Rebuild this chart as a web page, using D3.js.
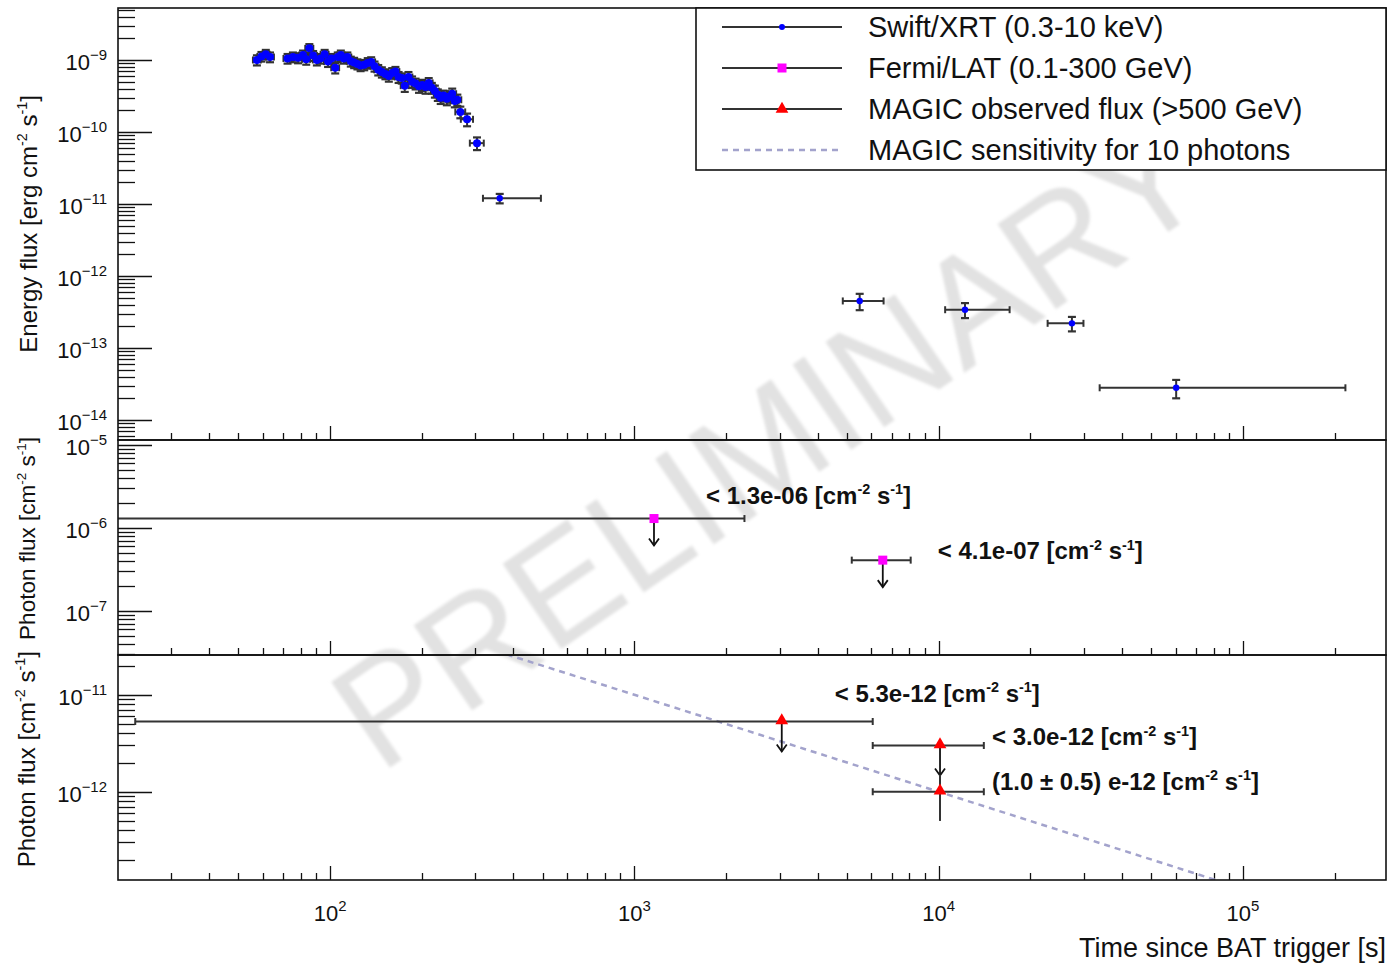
<!DOCTYPE html>
<html>
<head>
<meta charset="utf-8">
<script src="https://cdn.jsdelivr.net/npm/d3@7"></script>
<style>
  body { margin: 0; background: #fff; }
  svg { display: block; font-family: "Liberation Sans", Arial, Helvetica, sans-serif; }
</style>
</head>
<body>
<svg id="chart" width="1390" height="965"></svg>
<script>
// Swift/XRT light curve (time [s], energy flux [erg cm^-2 s^-1])
var swiftT = [57.5,59.5,61.5,63.5, 72.5,75.5,78.5,81.5,83.5,85.5, 88,90.5,93,96,98.5, 101,104,106,108.5,111,
  114,117,120,123,126, 129.5,133,136.5,140,144, 148,152,156,160,164, 168,172,176,181,186,
  191,196,201,206,211, 216,221,226,231,236, 242,247,252,257,262, 268,282,304]
var swiftTErr = [1.7,1.8,1.8,1.9, 2.2,2.3,2.4,2.4,2.5,2.6, 2.6,2.7,2.8,2.9,3.0, 3.0,3.1,3.2,3.3,3.3,
  3.4,3.5,3.6,3.7,3.8, 3.9,4.0,4.1,4.2,4.3, 4.4,4.6,4.7,4.8,4.9, 5.0,5.2,5.3,5.4,5.6,
  5.7,5.9,6.0,6.2,6.3, 6.5,6.6,6.8,6.9,7.1, 7.3,7.4,7.6,7.7,7.9, 10,13,16]
var swiftF = [1.00e-9,1.12e-9,1.20e-9,1.10e-9, 1.05e-9,1.10e-9,1.07e-9,1.17e-9,1.02e-9,1.45e-9,
  1.15e-9,1.00e-9,1.05e-9,1.20e-9,0.95e-9, 1.05e-9,7.8e-10,1.10e-9,1.17e-9,1.05e-9,
  1.10e-9,9.6e-10,9.2e-10,8.8e-10,8.4e-10, 8.6e-10,9.1e-10,9.4e-10,8.2e-10,7.3e-10,
  6.8e-10,6.4e-10,6.0e-10,6.6e-10,6.9e-10, 5.8e-10,5.6e-10,4.4e-10,5.8e-10,5.0e-10,
  4.7e-10,4.3e-10,4.5e-10,4.2e-10,4.8e-10, 4.1e-10,3.7e-10,3.3e-10,3.0e-10,3.2e-10,
  2.9e-10,3.1e-10,3.4e-10,2.7e-10,2.8e-10, 1.9e-10,1.5e-10,7.0e-11]
var swiftFErr = [1.6e-10,1.7e-10,1.8e-10,1.7e-10, 1.6e-10,1.7e-10,1.7e-10,1.8e-10,1.6e-10,2.1e-10,
  1.8e-10,1.6e-10,1.6e-10,1.8e-10,1.5e-10, 1.6e-10,1.3e-10,1.7e-10,1.8e-10,1.6e-10,
  1.7e-10,1.5e-10,1.5e-10,1.4e-10,1.4e-10, 1.4e-10,1.5e-10,1.5e-10,1.3e-10,1.2e-10,
  1.1e-10,1.0e-10,1.0e-10,1.1e-10,1.1e-10, 1.0e-10,0.9e-10,0.8e-10,1.0e-10,0.9e-10,
  0.8e-10,0.8e-10,0.8e-10,0.8e-10,0.8e-10, 0.7e-10,0.7e-10,0.6e-10,0.55e-10,0.55e-10,
  0.55e-10,0.55e-10,0.6e-10,0.5e-10,0.5e-10, 0.35e-10,0.3e-10,1.4e-11]

// late Swift points, asymmetric time bins
var swiftLateT = [361, 5500, 12200, 27400, 60300]
var swiftLateTLo = [318, 4840, 10500, 22800, 33800]
var swiftLateTHi = [493, 6590, 17100, 29900, 217000]
var swiftLateF = [1.2e-11, 4.5e-13, 3.4e-13, 2.2e-13, 2.8e-14]
var swiftLateFErr = [1.8e-12, 1.15e-13, 0.8e-13, 0.5e-13, 0.8e-14]

// Fermi/LAT upper limits (photon flux cm^-2 s^-1)
var fermiT = [1160, 6550]
var fermiTLo = [1, 5180]
var fermiTHi = [2300, 8090]
var fermiF = [1.3e-6, 4.1e-7]
var fermiLabels = ['< 1.3e-06', '< 4.1e-07']

// MAGIC (>500 GeV)
var magicT = [3050, 10100, 10100]
var magicTLo = [22.9, 6070, 6070]
var magicTHi = [6070, 14070, 14070]
var magicF = [5.3e-12, 3.0e-12, 1.0e-12]
var magicFErr = [0, 0, 0.5e-12]
var magicUL = [true, true, false]
var magicLabels = ['< 5.3e-12', '< 3.0e-12', '(1.0 \u00b1 0.5) e-12']

// MAGIC sensitivity for 10 photons
var sensT = [300, 1000, 10000, 100000]
var sensF = [3.3e-11, 1.0e-11, 1.0e-12, 1.0e-13]

var legendLabels = ['Swift/XRT (0.3-10 keV)', 'Fermi/LAT (0.1-300 GeV)', 'MAGIC observed flux (>500 GeV)', 'MAGIC sensitivity for 10 photons']

var L = 118, R = 1386
var panels = [
    {top: 8, bottom: 440, dom: [Math.pow(10, -14.278), Math.pow(10, -8.278)]},
    {top: 440, bottom: 655, dom: [Math.pow(10, -7.53), Math.pow(10, -4.94)]},
    {top: 655, bottom: 880, dom: [Math.pow(10, -12.91), Math.pow(10, -10.59)]}
]

var svg = d3.select('#chart')
var xs = d3.scaleLog().domain([20.1, 2.95e5]).range([L, R])
panels.forEach(p => { p.y = d3.scaleLog().domain(p.dom).range([p.bottom, p.top]) })

var defs = svg.append('defs')
defs.append('filter').attr('id', 'soft').append('feGaussianBlur').attr('stdDeviation', 1.8)
panels.forEach((p, i) => {
    defs.append('clipPath').attr('id', 'clip' + i).append('rect')
        .attr('x', L).attr('y', p.top).attr('width', R - L).attr('height', p.bottom - p.top)
})

// watermark, behind everything
svg.append('text')
    .attr('transform', 'translate(768,444) rotate(-34.5)')
    .attr('text-anchor', 'middle').attr('dominant-baseline', 'central')
    .style('font-size', '150px').style('fill', '#e2e2e2')
    .attr('filter', 'url(#soft)')
    .text('PRELIMINARY')

// ---- axes / ticks ----
function logTicks(dom) {
    var out = []
    var lo = Math.floor(Math.log10(dom[0])), hi = Math.ceil(Math.log10(dom[1]))
    for (var e = lo; e <= hi; e++) {
        for (var m = 1; m < 10; m++) {
            var v = m * Math.pow(10, e)
            if (v >= dom[0] && v <= dom[1]) out.push({v: v, major: m == 1, e: e})
        }
    }
    return out
}

var axisG = svg.append('g').style('stroke', '#111')

panels.forEach(p => {
    // left ticks (inside)
    logTicks(p.dom).forEach(t => {
        var yy = Math.round(p.y(t.v)) + 0.5
        axisG.append('line').attr('x1', L).attr('x2', L + (t.major ? 34 : 17))
            .attr('y1', yy).attr('y2', yy).style('stroke-width', 1.3)
    })
    // bottom ticks (upward)
    logTicks(xs.domain()).forEach(t => {
        var xx = Math.round(xs(t.v)) + 0.5
        axisG.append('line').attr('x1', xx).attr('x2', xx)
            .attr('y1', p.bottom).attr('y2', p.bottom - (t.major ? 14 : 7)).style('stroke-width', 1.3)
    })
})

function supLabel(g, x, y, base, exp, anchor, size) {
    var t = g.append('text').attr('x', x).attr('y', y).attr('text-anchor', anchor)
        .style('font-size', size + 'px').style('fill', '#111')
    t.append('tspan').text(base)
    t.append('tspan').attr('dy', -size * 0.45).style('font-size', (size * 0.68) + 'px').text(exp)
    return t
}

// y tick labels
panels.forEach(p => {
    logTicks(p.dom).filter(t => t.major).forEach(t => {
        supLabel(svg, 107, p.y(t.v) + 10, '10', '\u2212' + Math.abs(t.e), 'end', 22)
    })
})
// x tick labels
logTicks(xs.domain()).filter(t => t.major).forEach(t => {
    supLabel(svg, xs(t.v), 921, '10', String(t.e), 'middle', 22)
})

// axis titles
function unitTitle(g, pre, post, size) {
    var t = g.append('text').style('font-size', size + 'px').style('fill', '#111')
    t.append('tspan').text(pre + ' [' + post + 'cm')
    t.append('tspan').attr('dy', -size * 0.4).style('font-size', (size * 0.6) + 'px').text('-2')
    t.append('tspan').attr('dy', size * 0.4).text(' s')
    t.append('tspan').attr('dy', -size * 0.4).style('font-size', (size * 0.6) + 'px').text('-1')
    t.append('tspan').attr('dy', size * 0.4).text(']')
    return t
}
unitTitle(svg, 'Energy flux', 'erg ', 24).attr('text-anchor', 'end')
    .attr('transform', 'translate(37,95) rotate(-90)')
unitTitle(svg, 'Photon flux', '', 22.5).attr('text-anchor', 'end')
    .attr('transform', 'translate(35,437) rotate(-90)')
unitTitle(svg, 'Photon flux', '', 24).attr('text-anchor', 'end')
    .attr('transform', 'translate(35,651) rotate(-90)')

svg.append('text').attr('x', 1386).attr('y', 957).attr('text-anchor', 'end')
    .style('font-size', '27px').style('fill', '#111').text('Time since BAT trigger [s]')

// ---- data drawing helpers ----
var barColor = '#333'
function errBar(g, x1, x2, y1, y2, cap) {
    g.append('line').attr('x1', x1).attr('x2', x2).attr('y1', y1).attr('y2', y2)
        .style('stroke', barColor).style('stroke-width', 2)
    if (cap) {
        if (y1 == y2) {
            [x1, x2].forEach(x => g.append('line').attr('x1', x).attr('x2', x)
                .attr('y1', y1 - 3.5).attr('y2', y1 + 3.5).style('stroke', barColor).style('stroke-width', 2))
        } else {
            [y1, y2].forEach(y => g.append('line').attr('x1', x1 - 4).attr('x2', x1 + 4)
                .attr('y1', y).attr('y2', y).style('stroke', barColor).style('stroke-width', 2.2))
        }
    }
}
function arrowDown(g, x, y, len) {
    g.append('line').attr('x1', x).attr('x2', x).attr('y1', y).attr('y2', y + len)
        .style('stroke', '#111').style('stroke-width', 1.8)
    g.append('path').attr('d', `M${x - 5},${y + len - 7}L${x},${y + len}L${x + 5},${y + len - 7}`)
        .style('fill', 'none').style('stroke', '#111').style('stroke-width', 1.8)
}
var tri = d3.symbol().type(d3.symbolTriangle).size(70)

// top panel: Swift
var p0 = panels[0]
var g0 = svg.append('g').attr('clip-path', 'url(#clip0)')
swiftT.forEach((t, i) => {
    var cx = xs(t), cy = p0.y(swiftF[i])
    errBar(g0, xs(t - swiftTErr[i]), xs(t + swiftTErr[i]), cy, cy, true)
    errBar(g0, cx, cx, p0.y(swiftF[i] + swiftFErr[i]), p0.y(swiftF[i] - swiftFErr[i]), true)
})
swiftLateT.forEach((t, i) => {
    var cx = xs(t), cy = p0.y(swiftLateF[i])
    errBar(g0, xs(swiftLateTLo[i]), xs(swiftLateTHi[i]), cy, cy, true)
    errBar(g0, cx, cx, p0.y(swiftLateF[i] + swiftLateFErr[i]), p0.y(swiftLateF[i] - swiftLateFErr[i]), true)
})
swiftT.forEach((t, i) => {
    g0.append('circle').attr('cx', xs(t)).attr('cy', p0.y(swiftF[i])).attr('r', 4).style('fill', '#0000ff')
})
swiftLateT.forEach((t, i) => {
    g0.append('circle').attr('cx', xs(t)).attr('cy', p0.y(swiftLateF[i])).attr('r', 3.2).style('fill', '#0000ff')
})

// middle panel: Fermi
var p1 = panels[1]
var g1 = svg.append('g').attr('clip-path', 'url(#clip1)')
var labelOffsets1 = [[52, -23], [55, -9]]
fermiT.forEach((t, i) => {
    var cx = xs(t), cy = p1.y(fermiF[i])
    errBar(g1, xs(fermiTLo[i]), xs(fermiTHi[i]), cy, cy, true)
    arrowDown(g1, cx, cy, 27)
    g1.append('rect').attr('x', cx - 4.5).attr('y', cy - 4.5).attr('width', 9).attr('height', 9).style('fill', '#ff00ff')
})

// bottom panel: MAGIC + sensitivity
var p2 = panels[2]
var g2 = svg.append('g').attr('clip-path', 'url(#clip2)')
g2.append('path')
    .attr('d', d3.line().x(d => xs(d[0])).y(d => p2.y(d[1]))(sensT.map((t, i) => [t, sensF[i]])))
    .style('fill', 'none').style('stroke', '#a3a3cc').style('stroke-width', 2.5).style('stroke-dasharray', '6,5')
var labelOffsets2 = [[53, -28], [52, -8], [52, -10]]
magicT.forEach((t, i) => {
    var cx = xs(t), cy = p2.y(magicF[i])
    errBar(g2, xs(magicTLo[i]), xs(magicTHi[i]), cy, cy, true)
    if (magicUL[i]) arrowDown(g2, cx, cy, 30)
    if (magicFErr[i] > 0) errBar(g2, cx, cx, p2.y(magicF[i] + magicFErr[i]), p2.y(magicF[i] - magicFErr[i]), false)
})
magicT.forEach((t, i) => {
    g2.append('path').attr('d', tri()).attr('transform', `translate(${xs(t)},${p2.y(magicF[i]) - 1})`).style('fill', '#ff0000')
})

// annotations
function unitLabel(x, y, txt) {
    var size = 24
    var t = svg.append('text').attr('x', x).attr('y', y).style('font-size', size + 'px')
        .style('font-weight', 'bold').style('fill', '#111')
    t.append('tspan').text(txt + ' [cm')
    t.append('tspan').attr('dy', -size * 0.4).style('font-size', (size * 0.6) + 'px').text('-2')
    t.append('tspan').attr('dy', size * 0.4).text(' s')
    t.append('tspan').attr('dy', -size * 0.4).style('font-size', (size * 0.6) + 'px').text('-1')
    t.append('tspan').attr('dy', size * 0.4).text(']')
}
fermiT.forEach((t, i) => unitLabel(xs(t) + labelOffsets1[i][0], p1.y(fermiF[i]) + labelOffsets1[i][1] + 8, fermiLabels[i]))
magicT.forEach((t, i) => unitLabel(xs(t) + labelOffsets2[i][0], p2.y(magicF[i]) + labelOffsets2[i][1] + 8, magicLabels[i]))

// frames
panels.forEach(p => {
    svg.append('rect').attr('x', L).attr('y', p.top).attr('width', R - L).attr('height', p.bottom - p.top)
        .style('fill', 'none').style('stroke', '#111').style('stroke-width', 1.6)
})

// legend
var lg = svg.append('g')
lg.append('rect').attr('x', 696).attr('y', 8).attr('width', R - 696).attr('height', 162)
    .style('fill', '#fff').style('stroke', '#111').style('stroke-width', 1.6)
var rowsY = [27, 68, 109, 150]
legendLabels.forEach((lab, i) => {
    var yy = rowsY[i]
    var ln = lg.append('line').attr('x1', 722).attr('x2', 842).attr('y1', yy).attr('y2', yy)
    if (i < 3) ln.style('stroke', '#333').style('stroke-width', 2)
    else ln.style('stroke', '#a3a3cc').style('stroke-width', 2.5).style('stroke-dasharray', '6,5')
    if (i == 0) lg.append('circle').attr('cx', 782).attr('cy', yy).attr('r', 3).style('fill', '#0000ff')
    if (i == 1) lg.append('rect').attr('x', 777.5).attr('y', yy - 4.5).attr('width', 9).attr('height', 9).style('fill', '#ff00ff')
    if (i == 2) lg.append('path').attr('d', tri()).attr('transform', `translate(782,${yy})`).style('fill', '#ff0000')
    lg.append('text').attr('x', 868).attr('y', yy + 10).style('font-size', '29px').style('fill', '#111').text(lab)
})
</script>
</body>
</html>
